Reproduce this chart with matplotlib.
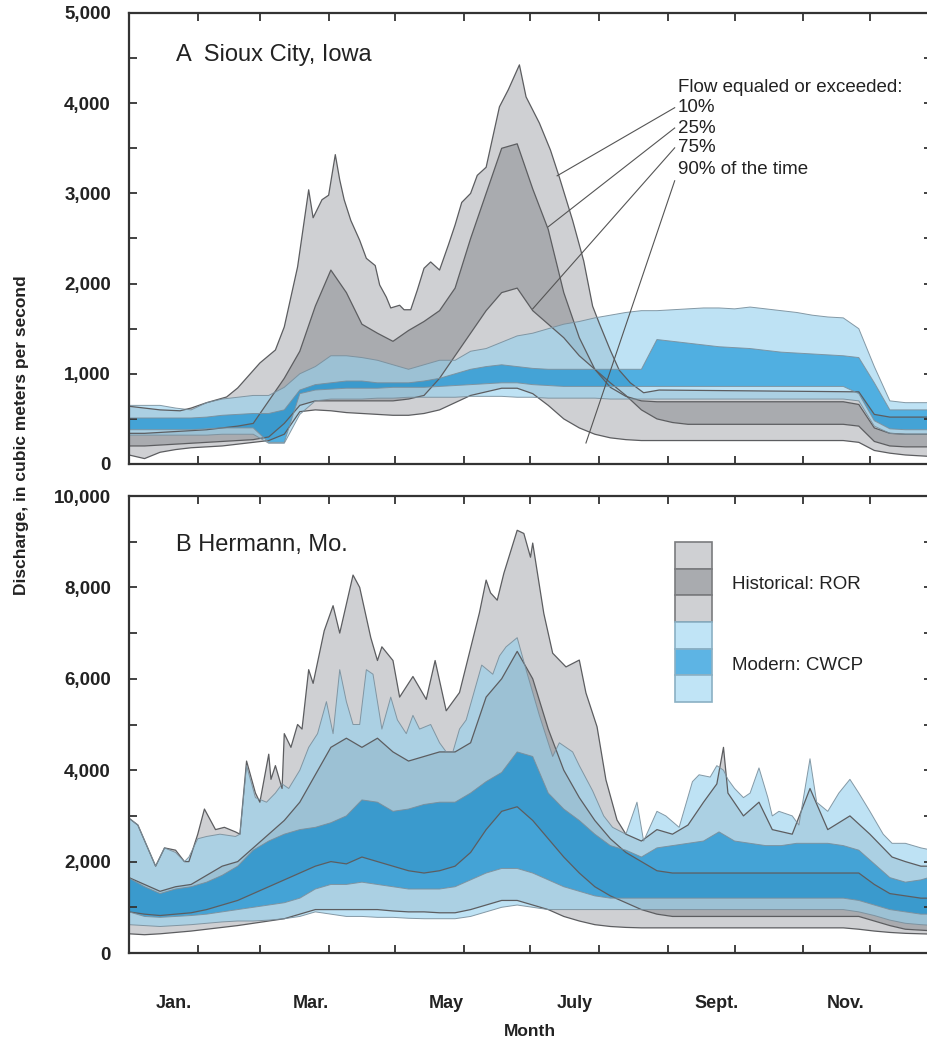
import matplotlib
matplotlib.use("Agg")
from matplotlib import pyplot as plt
from matplotlib.patches import Rectangle

plt.rcParams['font.family'] = ['Liberation Sans', 'DejaVu Sans']

# day of year, one value a week (most percentile curves)
days = list(range(0, 365, 7))

# ---- Sioux City, Iowa (panel A) ----
# historical (run of river) 10% curve, read at its turning points
a_h10_days = [0, 7, 14, 23, 28, 35, 44, 49, 59, 66, 70, 76, 81, 83, 87, 90, 93, 95, 97, 100, 104, 107, 111,
              113, 116, 118, 122, 124, 127, 130, 133, 136, 140, 144, 147, 150, 154, 157, 161, 167, 171, 176,
              179, 185, 190, 194, 200, 205, 209, 212, 217, 221, 226, 232, 239, 329, 336, 343, 362]
a_h10 = [640, 620, 600, 590, 620, 680, 743, 843, 1120, 1264, 1520, 2185, 3040, 2730, 2930, 2980, 3430, 3150,
         2930, 2700, 2480, 2280, 2200, 1985, 1850, 1730, 1760, 1710, 1710, 1930, 2170, 2240, 2150, 2430, 2650,
         2900, 3000, 3200, 3290, 3960, 4150, 4425, 4070, 3780, 3480, 3180, 2700, 2250, 1750, 1560, 1260, 1040,
         900, 790, 820, 800, 550, 520, 520]
a_h25 = [340, 340, 350, 360, 370, 380, 400, 420, 450, 700, 950, 1250, 1750, 2150, 1900, 1550, 1450, 1360,
         1480, 1580, 1700, 1950, 2500, 3000, 3500, 3550, 3050, 2600, 1900, 1400, 1050, 850, 750, 700, 690,
         690, 690, 690, 690, 690, 690, 690, 690, 690, 690, 690, 690, 660, 400, 340, 330, 330, 330]
a_h75 = [200, 200, 210, 220, 230, 240, 250, 260, 270, 300, 450, 650, 700, 700, 700, 700, 700, 700,
         720, 760, 950, 1200, 1450, 1700, 1900, 1950, 1700, 1550, 1400, 1200, 1050, 900, 760, 600, 500,
         460, 440, 440, 440, 440, 440, 440, 440, 440, 440, 440, 440, 420, 250, 200, 190, 190, 190]
a_h90 = [100, 60, 130, 160, 180, 190, 200, 220, 240, 260, 330, 580, 600, 590, 570, 560, 550, 540,
         540, 560, 600, 680, 760, 800, 840, 840, 780, 650, 500, 400, 330, 290, 270, 260, 260,
         260, 260, 260, 260, 260, 260, 260, 260, 260, 260, 260, 260, 240, 150, 120, 100, 90, 80]
# modern (current water control plan)
a_m10 = [650, 650, 650, 620, 600, 680, 720, 740, 760, 760, 850, 1000, 1080, 1200, 1200, 1180, 1150, 1100,
         1050, 1100, 1150, 1150, 1250, 1280, 1350, 1420, 1450, 1500, 1550, 1580, 1620, 1650, 1680, 1700, 1700,
         1710, 1720, 1730, 1730, 1720, 1740, 1720, 1700, 1680, 1650, 1630, 1620, 1500, 1080, 700, 680, 680, 680]
a_m25 = [510, 510, 510, 510, 510, 520, 540, 550, 560, 560, 600, 820, 880, 900, 920, 920, 900, 900,
         900, 920, 950, 1000, 1050, 1080, 1100, 1080, 1060, 1050, 1050, 1050, 1050, 1050, 1050, 1050, 1380,
         1360, 1340, 1320, 1300, 1290, 1280, 1260, 1240, 1230, 1220, 1210, 1200, 1180, 900, 600, 600, 600, 600]
a_m75 = [380, 380, 380, 380, 380, 390, 400, 400, 400, 240, 240, 780, 820, 830, 840, 840, 840, 850,
         850, 850, 860, 870, 880, 890, 900, 900, 880, 870, 860, 860, 860, 860, 860, 860, 860,
         860, 860, 860, 860, 860, 860, 860, 860, 860, 860, 860, 860, 780, 480, 390, 380, 380, 380]
a_m90 = [320, 320, 320, 320, 320, 320, 330, 330, 330, 230, 230, 550, 700, 720, 720, 720, 730, 730,
         740, 740, 740, 740, 750, 750, 750, 740, 740, 730, 730, 730, 730, 720, 720, 720, 720,
         720, 720, 720, 720, 720, 720, 720, 720, 720, 720, 720, 720, 700, 420, 340, 330, 330, 330]

# ---- Hermann, Mo. (panel B) ----
b_h10_days = [0, 4, 12, 16, 21, 25, 27, 31, 34, 39, 43, 48, 50, 53, 57, 59, 63, 64, 66, 69, 70, 73, 76, 78,
              81, 83, 88, 92, 95, 101, 104, 109, 112, 114, 119, 122, 128, 134, 138, 143, 149, 158, 161, 163,
              166, 169, 175, 178, 181, 182, 187, 191, 197, 203, 206, 211, 215, 220, 224, 231, 238, 245, 252,
              259, 265, 268, 270, 277, 284, 290, 299, 307, 315, 325, 334, 344, 350, 357, 362]
b_h10 = [2950, 2800, 1900, 2300, 2250, 2000, 2000, 2600, 3150, 2700, 2750, 2650, 2600, 4200, 3500, 3300, 4350,
         3800, 4100, 3600, 4800, 4500, 5000, 4900, 6200, 5900, 7050, 7600, 7000, 8270, 8000, 6900, 6400, 6700,
         6400, 5600, 6050, 5550, 6400, 5300, 5700, 7450, 8160, 7880, 7720, 8310, 9250, 9180, 8660, 8970, 7430,
         6560, 6260, 6410, 5690, 4950, 3790, 2910, 2600, 2450, 2700, 2600, 2800, 3300, 3700, 4500, 3500, 3000,
         3300, 2700, 2600, 3600, 2700, 3000, 2600, 2100, 2000, 1900, 1900]
b_m10_days = [0, 4, 12, 16, 21, 25, 27, 31, 35, 41, 48, 50, 53, 57, 62, 66, 69, 72, 77, 81, 85, 89, 92, 95,
              98, 101, 104, 107, 110, 114, 118, 121, 125, 128, 131, 136, 140, 143, 146, 149, 152, 159, 164,
              167, 170, 175, 179, 185, 191, 194, 200, 203, 209, 214, 218, 224, 229, 232, 238, 242, 248, 254,
              257, 262, 265, 268, 270, 273, 277, 280, 284, 288, 290, 293, 299, 302, 307, 310, 315, 320, 325,
              329, 334, 340, 344, 350, 357, 362]
b_m10 = [2950, 2800, 1900, 2300, 2200, 2000, 2100, 2500, 2550, 2600, 2550, 2600, 4100, 3400, 3300, 3500, 3700,
         3600, 4000, 4500, 4800, 5500, 4800, 6200, 5500, 5000, 5000, 6200, 6100, 4900, 5600, 5100, 4800, 5200,
         4900, 5000, 4600, 4400, 4400, 4900, 5100, 6300, 6100, 6500, 6700, 6900, 6200, 5200, 4300, 4600, 4400,
         4100, 3550, 3000, 2750, 2600, 3300, 2450, 3100, 3000, 2750, 3750, 3900, 3850, 4100, 4000, 3800, 3600,
         3400, 3500, 4050, 3400, 3000, 3100, 3000, 2800, 4250, 3300, 3100, 3500, 3800, 3500, 3100, 2600, 2400,
         2400, 2300, 2250]
b_h25 = [1650, 1500, 1350, 1450, 1500, 1700, 1900, 2000, 2300, 2600, 2900, 3300, 3900, 4500, 4700, 4500, 4700, 4400,
         4200, 4300, 4400, 4400, 4600, 5600, 6000, 6600, 6000, 4900, 4000, 3400, 2900, 2500, 2200, 2000, 1800,
         1750, 1750, 1750, 1750, 1750, 1750, 1750, 1750, 1750, 1750, 1750, 1750, 1750, 1500, 1300, 1250, 1200, 1200]
b_h75 = [900, 850, 820, 850, 880, 950, 1050, 1150, 1300, 1450, 1600, 1750, 1900, 2000, 1950, 2100, 2000, 1900,
         1800, 1750, 1800, 1900, 2200, 2700, 3100, 3200, 2900, 2500, 2100, 1750, 1450, 1250, 1100, 950, 850,
         800, 800, 800, 800, 800, 800, 800, 800, 800, 800, 800, 800, 800, 700, 600, 520, 500, 480]
b_h90 = [420, 400, 420, 450, 480, 520, 560, 600, 650, 700, 750, 850, 950, 950, 950, 950, 950, 920,
         900, 900, 880, 880, 950, 1050, 1150, 1150, 1050, 950, 800, 700, 620, 580, 560, 550, 550,
         550, 550, 550, 550, 550, 550, 550, 550, 550, 550, 550, 550, 520, 480, 450, 430, 420, 410]
b_m25 = [1640, 1450, 1300, 1400, 1450, 1550, 1700, 1900, 2250, 2450, 2600, 2700, 2750, 2850, 3000, 3350, 3300, 3100,
         3150, 3250, 3300, 3300, 3500, 3750, 3950, 4400, 4300, 3500, 3150, 2900, 2600, 2350, 2250, 2100, 2300,
         2350, 2400, 2450, 2650, 2450, 2400, 2350, 2350, 2400, 2400, 2400, 2350, 2250, 1950, 1650, 1550, 1600, 1700]
b_m75 = [900, 800, 780, 800, 820, 850, 900, 950, 1000, 1050, 1100, 1200, 1400, 1500, 1500, 1550, 1500, 1450,
         1400, 1400, 1400, 1450, 1600, 1750, 1850, 1850, 1750, 1600, 1450, 1350, 1250, 1200, 1200, 1200, 1200,
         1200, 1200, 1200, 1200, 1200, 1200, 1200, 1200, 1200, 1200, 1200, 1200, 1150, 1050, 950, 900, 850, 850]
b_m90 = [620, 600, 580, 600, 620, 650, 680, 700, 700, 720, 750, 800, 900, 850, 800, 800, 780, 780,
         760, 750, 750, 750, 800, 900, 1000, 1050, 1000, 950, 950, 950, 950, 950, 950, 950, 950,
         950, 950, 950, 950, 950, 950, 950, 950, 950, 950, 950, 950, 900, 820, 720, 650, 620, 600]

month_starts = [31, 59, 90, 120, 151, 181, 212, 243, 273, 304, 334]
month_label_pos = [20, 82, 143, 201, 265, 323]
month_labels = ["Jan.", "Mar.", "May", "July", "Sept.", "Nov."]

GRAY_LIGHT = "#cfd0d3"
GRAY_DARK = "#a9abaf"
BLUE_LIGHT = "#94d0ee"
BLUE_MED = "#1595d8"
HIST_LINE = "#5c5d60"
MOD_LINE = "#7a8f9c"


def band(ax, top, bot, **kw):
    # polygon between two curves that may be sampled on different days
    xs = list(top[0]) + list(bot[0])[::-1]
    ys = list(top[1]) + list(bot[1])[::-1]
    ax.fill(xs, ys, lw=0, **kw)


def draw_panel(ax, h10, h25, h75, h90, m10, m25, m75, m90):
    band(ax, h10, h25, color=GRAY_LIGHT)
    band(ax, h25, h75, color=GRAY_DARK)
    band(ax, h75, h90, color=GRAY_LIGHT)
    for x, y in (h10, h25, h75, h90):
        ax.plot(x, y, color=HIST_LINE, lw=0.9)
    band(ax, m10, m25, color=BLUE_LIGHT, alpha=0.6)
    band(ax, m25, m75, color=BLUE_MED, alpha=0.75)
    band(ax, m75, m90, color=BLUE_LIGHT, alpha=0.6)
    for x, y in (m10, m25, m75, m90):
        ax.plot(x, y, color=MOD_LINE, lw=0.7, alpha=0.9)


def style_axis(ax, ymax, major, minor):
    ax.set_xlim(0, 362)
    ax.set_ylim(0, ymax)
    ax.set_xticks(month_starts)
    ax.set_xticklabels([])
    ax.set_yticks(range(0, ymax + 1, major))
    ax.set_yticks(range(0, ymax + 1, minor), minor=True)
    ax.set_yticklabels(["{:,}".format(v) for v in range(0, ymax + 1, major)],
                       fontsize=13.5, fontweight="bold", color="#222222")
    ax.tick_params(axis="both", which="both", direction="in", length=5.5, width=1.3,
                   top=True, right=True, color="#333333")
    ax.tick_params(axis="y", which="major", pad=13)
    for sp in ax.spines.values():
        sp.set_linewidth(1.6)
        sp.set_color("#333333")


fig = plt.figure(figsize=(9.28, 10.43), dpi=100)
axA = fig.add_axes([129 / 928, 579 / 1043, 803 / 928, 451 / 1043])
axB = fig.add_axes([129 / 928, 90 / 1043, 803 / 928, 457 / 1043])

draw_panel(axA, (a_h10_days, a_h10), (days, a_h25), (days, a_h75), (days, a_h90),
           (days, a_m10), (days, a_m25), (days, a_m75), (days, a_m90))
draw_panel(axB, (b_h10_days, b_h10), (days, b_h25), (days, b_h75), (days, b_h90),
           (b_m10_days, b_m10), (days, b_m25), (days, b_m75), (days, b_m90))
style_axis(axA, 5000, 1000, 500)
style_axis(axB, 10000, 2000, 1000)

# month names sit between the tick marks
axB.set_xticks(month_label_pos, minor=True)
axB.set_xticklabels(month_labels, minor=True, fontsize=13, fontweight="bold", color="#222222")
axB.tick_params(axis="x", which="minor", length=0, pad=30)

axA.text(21, 4535, "A  Sioux City, Iowa", fontsize=17, color="#222222", va="center")
axB.text(21, 8930, "B Hermann, Mo.", fontsize=17, color="#222222", va="center")

# flow-duration callouts in panel A
axA.text(247.5, 4170, "Flow equaled or exceeded:", fontsize=13.5, color="#222222", va="center")
callouts = [("10%", 3950, (193, 3195)), ("25%", 3725, (189, 2630)),
            ("75%", 3505, (182, 1720)), ("90% of the time", 3260, (206, 233))]
for lab, yv, tgt in callouts:
    axA.text(247.5, yv, lab, fontsize=13.5, color="#222222", va="center")
    start = (246, yv - 120) if lab.startswith("90") else (246, yv)
    axA.plot([start[0], tgt[0]], [start[1], tgt[1]], color="#555555", lw=0.8)

# legend boxes in panel B
box_cols = [GRAY_LIGHT, GRAY_DARK, GRAY_LIGHT, "#c0e4f6", "#5db4e4", "#c0e4f6"]
box_top = 8990
box_h = 583
for i, c in enumerate(box_cols):
    edge = "#7a7b7e" if i < 3 else "#8ab0c4"
    axB.add_patch(Rectangle((246, box_top - (i + 1) * box_h), 17, box_h,
                            facecolor=c, edgecolor=edge, lw=1.2, zorder=5))
axB.text(272, 8070, "Historical: ROR", fontsize=13.5, color="#222222", va="center")
axB.text(272, 6300, "Modern: CWCP", fontsize=13.5, color="#222222", va="center")

fig.text(22 / 928, 1 - 435 / 1043, "Discharge, in cubic meters per second", rotation=90,
         fontsize=12.5, fontweight="bold", color="#222222", ha="center", va="center")
fig.text(530 / 928, 1 - 1032 / 1043, "Month", fontsize=12.5, fontweight="bold",
         color="#222222", ha="center", va="center")

fig.savefig("out.png", dpi=100, facecolor="white")
